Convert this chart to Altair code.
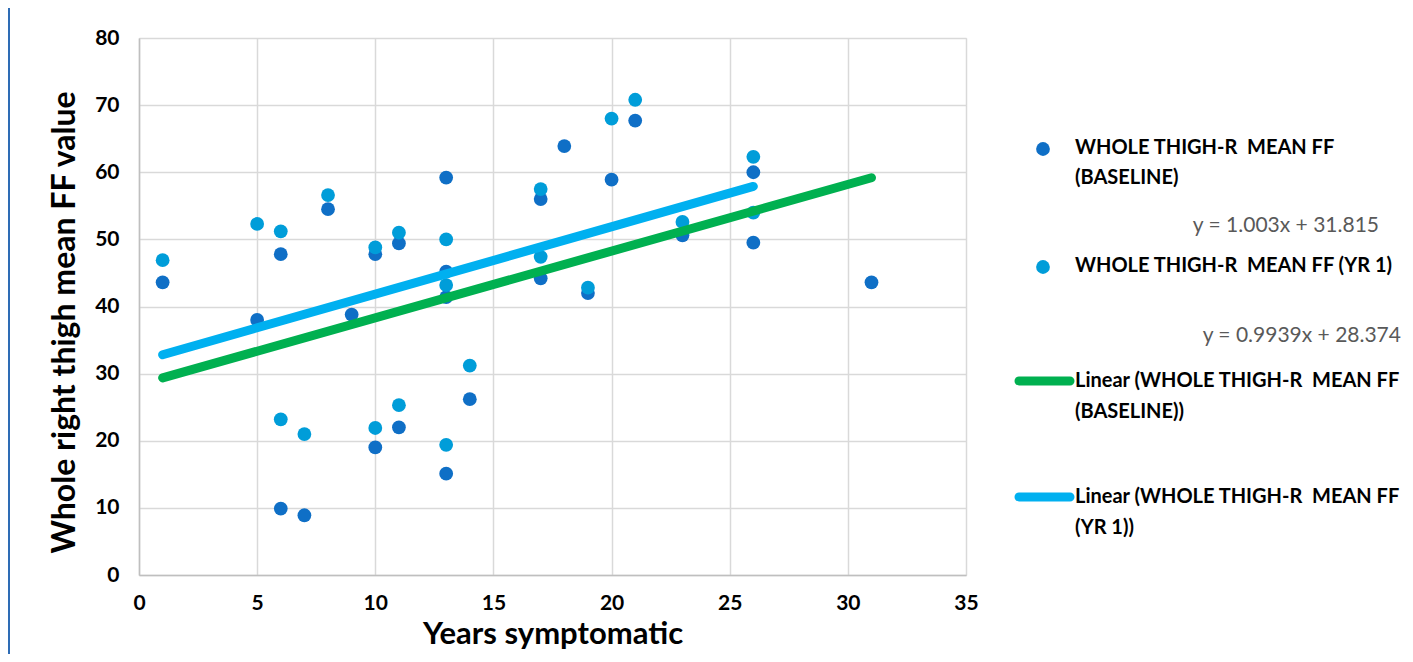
import altair as alt
import pandas as pd

# ---- data ----
years_baseline = [1, 5, 6, 6, 7, 8, 9, 10, 10, 11, 11, 13, 13, 13, 13, 14, 17, 17, 18, 19, 20, 21, 23, 26, 26, 31]
ff_baseline = [43.6, 38.0, 47.8, 9.9, 8.9, 54.5, 38.8, 47.8, 19.0, 49.4, 22.0, 59.2, 45.2, 41.4, 15.1, 26.2,
               56.0, 44.2, 63.9, 42.0, 58.9, 67.7, 50.6, 60.0, 49.5, 43.6]
years_yr1 = [1, 5, 6, 6, 7, 8, 10, 10, 11, 11, 13, 13, 13, 14, 17, 17, 19, 20, 21, 23, 26, 26]
ff_yr1 = [46.9, 52.3, 51.2, 23.2, 21.0, 56.6, 48.8, 21.9, 51.0, 25.3, 50.0, 43.2, 19.4, 31.2, 57.5, 47.4,
          42.8, 68.0, 70.8, 52.6, 62.3, 54.0]

# trend line equations (as printed on the chart)
trend_yr1_slope, trend_yr1_intercept = 1.003, 31.815
trend_base_slope, trend_base_intercept = 0.9939, 28.374
trend_base_x = [1, 31]
trend_yr1_x = [1, 26]

x_ticks = [0, 5, 10, 15, 20, 25, 30, 35]
y_ticks = [0, 10, 20, 30, 40, 50, 60, 70, 80]

NB = "\u00a0"
series_line1 = "WHOLE THIGH-R" + NB + " MEAN FF"
eq_base_text = "y = 0.9939x + 28.374"
eq_yr1_text = "y = 1.003x + 31.815"

C_BASE = "#0F6FC6"
C_YR1 = "#009DD9"
C_TBASE = "#00B050"
C_TYR1 = "#00B0F0"
FONT = "Lato"

W, H = 827, 537

base_df = pd.DataFrame({"x": years_baseline, "y": ff_baseline})
yr1_df = pd.DataFrame({"x": years_yr1, "y": ff_yr1})
tb_df = pd.DataFrame({"x": trend_base_x, "y": [trend_base_slope * v + trend_base_intercept for v in trend_base_x]})
ty_df = pd.DataFrame({"x": trend_yr1_x, "y": [trend_yr1_slope * v + trend_yr1_intercept for v in trend_yr1_x]})

xs = alt.Scale(domain=[0, 35], nice=False, zero=False)
ys = alt.Scale(domain=[0, 80], nice=False)

x_axis = alt.Axis(values=x_ticks, title="Years symptomatic", grid=True, ticks=False, labelFlush=False,
                  labelPadding=17, titlePadding=6, labelFontSize=21, labelFontWeight="bold",
                  titleFontSize=31, titleFontWeight="bold", labelFont=FONT, titleFont=FONT,
                  labelColor="#000000", titleColor="#000000", domainColor="#BFBFBF", domainWidth=1.5,
                  gridColor="#D9D9D9", gridWidth=1.5)
y_axis = alt.Axis(values=y_ticks, title="Whole right thigh mean FF value", grid=True, ticks=False,
                  labelFlush=False,
                  labelPadding=20, titlePadding=13, titleY=284, labelFontSize=21, labelFontWeight="bold",
                  titleFontSize=32, titleFontWeight="bold", labelFont=FONT, titleFont=FONT,
                  labelColor="#000000", titleColor="#000000", domainColor="#BFBFBF", domainWidth=1.5,
                  gridColor="#D9D9D9", gridWidth=1.5)

pts_base = alt.Chart(base_df).mark_circle(size=190, opacity=1, color=C_BASE).encode(
    x=alt.X("x:Q", scale=xs, axis=x_axis), y=alt.Y("y:Q", scale=ys, axis=y_axis))
pts_yr1 = alt.Chart(yr1_df).mark_circle(size=190, opacity=1, color=C_YR1).encode(
    x=alt.X("x:Q", scale=xs), y=alt.Y("y:Q", scale=ys))
line_base = alt.Chart(tb_df).mark_line(color=C_TBASE, strokeWidth=9, strokeCap="round").encode(
    x=alt.X("x:Q", scale=xs), y=alt.Y("y:Q", scale=ys))
line_yr1 = alt.Chart(ty_df).mark_line(color=C_TYR1, strokeWidth=9, strokeCap="round").encode(
    x=alt.X("x:Q", scale=xs), y=alt.Y("y:Q", scale=ys))

one = pd.DataFrame({"k": [0]})


def txt(s, x, y, size=20, weight="bold", color="#000000", align="left"):
    return alt.Chart(one).mark_text(text=s, font=FONT, fontSize=size, fontWeight=weight, color=color,
                                    align=align, baseline="middle").encode(x=alt.value(x), y=alt.value(y))


def dot(color, x, y):
    return alt.Chart(one).mark_circle(size=190, opacity=1, color=color).encode(x=alt.value(x), y=alt.value(y))


def seg(color, x1, x2, y):
    return alt.Chart(one).mark_rule(color=color, strokeWidth=9, strokeCap="round").encode(
        x=alt.value(x1), x2=alt.value(x2), y=alt.value(y))


LX = 936
legend = [
    dot(C_BASE, 904, 111),
    txt(series_line1, LX, 110),
    txt("(BASELINE)", LX, 140),
    txt(eq_yr1_text, 1240, 188, size=21, weight="normal", color="#595959", align="right"),
    dot(C_YR1, 904, 229),
    txt(series_line1 + " (YR 1)", LX, 228),
    txt(eq_base_text, 1262, 298, size=21, weight="normal", color="#595959", align="right"),
    seg(C_TBASE, 880, 931, 343),
    txt("Linear (" + series_line1, LX, 343),
    txt("(BASELINE))", LX, 374),
    seg(C_TYR1, 880, 931, 459),
    txt("Linear (" + series_line1, LX, 459),
    txt("(YR 1))", LX, 490),
]

frame = alt.Chart(one).mark_rule(color="#2E6CB5", strokeWidth=2).encode(
    x=alt.value(-130), y=alt.value(-30), y2=alt.value(616))

chart = alt.layer(pts_base, pts_yr1, line_base, line_yr1, frame, *legend).properties(
    width=W, height=H,
    autosize=alt.AutoSizeParams(type="none"),
    padding={"left": 131, "top": 30, "right": 439, "bottom": 79},
).configure_view(stroke=None).configure(background="#FFFFFF")

chart.save("out.html", embed_options={"renderer": "svg", "actions": False})
